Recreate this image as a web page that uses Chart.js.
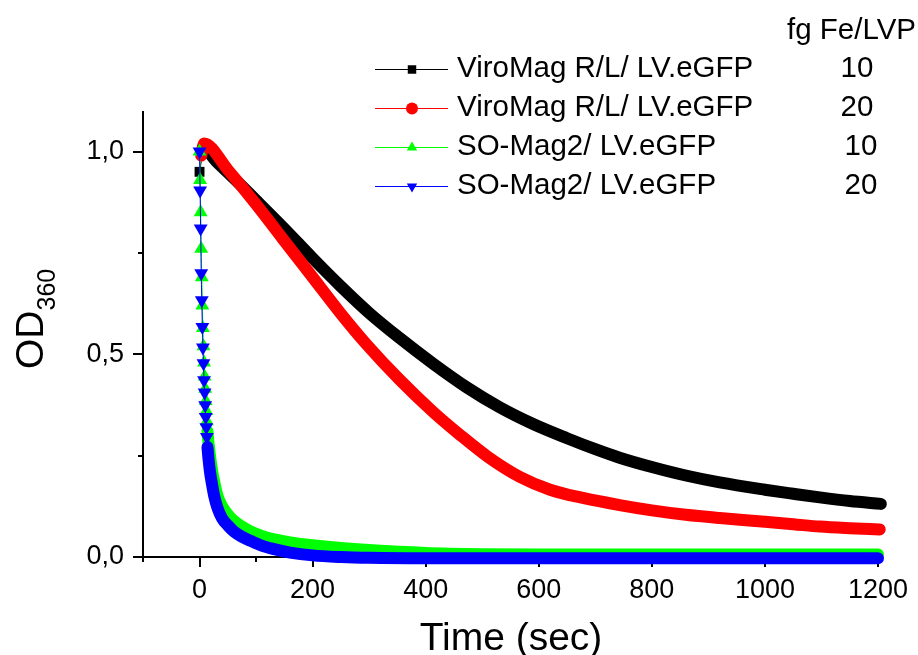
<!DOCTYPE html>
<html>
<head>
<meta charset="utf-8">
<script src="https://cdn.jsdelivr.net/npm/chart.js@4.4.1/dist/chart.umd.min.js"></script>
<style>
html,body{margin:0;padding:0;background:#fff;}
#wrap{width:918px;height:655px;position:relative;}
</style>
</head>
<body>
<div id="wrap"><canvas id="c" width="918" height="655"></canvas></div>
<script>
// ---------- DATA ----------
const seriesLabels = ["ViroMag R/L/ LV.eGFP", "ViroMag R/L/ LV.eGFP", "SO-Mag2/ LV.eGFP", "SO-Mag2/ LV.eGFP"];
const doseLabels = ["10", "20", "10", "20"];
const legendHeader = "fg Fe/LVP";

const timeViro10 = [0, 8, 30, 60, 100, 150, 200, 248, 300, 354, 413, 472, 530, 590, 650, 700, 743, 800, 860, 920, 1000, 1050, 1097, 1150, 1205];
const odViro10   = [0.95, 1.005, 0.975, 0.935, 0.88, 0.81, 0.737, 0.67, 0.602, 0.54, 0.477, 0.419, 0.37, 0.328, 0.293, 0.266, 0.245, 0.222, 0.201, 0.184, 0.166, 0.156, 0.147, 0.138, 0.131];

const timeViro20 = [3, 8, 50, 100, 147, 200, 250, 295, 354, 413, 460, 510, 566, 620, 680, 743, 800, 860, 920, 1000, 1050, 1097, 1150, 1203];
const odViro20   = [0.99, 1.02, 0.955, 0.87, 0.785, 0.69, 0.6, 0.525, 0.437, 0.358, 0.302, 0.247, 0.198, 0.166, 0.145, 0.128, 0.115, 0.104, 0.096, 0.087, 0.081, 0.075, 0.071, 0.068];

const timeSO10 = [0, 1, 2, 3, 4, 5, 6, 7, 8, 9, 10, 11, 12, 13, 14, 18, 22, 26, 32, 40, 50, 60, 75, 90, 110, 130, 160, 200, 250, 300, 400, 500, 600, 800, 1000, 1200];
const odSO10   = [1.0, 0.93, 0.85, 0.76, 0.69, 0.62, 0.565, 0.52, 0.48, 0.445, 0.415, 0.385, 0.36, 0.335, 0.31, 0.255, 0.215, 0.185, 0.15, 0.125, 0.105, 0.09, 0.075, 0.063, 0.052, 0.044, 0.036, 0.029, 0.022, 0.017, 0.01, 0.007, 0.006, 0.006, 0.006, 0.006];

const timeSO20 = [0, 1, 2, 3, 4, 5, 6, 7, 8, 9, 10, 11, 12, 13, 14, 18, 22, 26, 32, 40, 50, 60, 75, 90, 110, 130, 160, 200, 250, 300, 400, 500, 600, 800, 1000, 1200];
const odSO20   = [1.0, 0.904, 0.81, 0.70, 0.633, 0.567, 0.517, 0.478, 0.436, 0.406, 0.374, 0.345, 0.32, 0.296, 0.271, 0.215, 0.18, 0.15, 0.12, 0.095, 0.078, 0.064, 0.05, 0.04, 0.028, 0.02, 0.011, 0.004, 0.0, -0.002, -0.003, -0.003, -0.003, -0.003, -0.003, -0.003];

const xTickValues = [0, 200, 400, 600, 800, 1000, 1200];
const xMinorValues = [-100, 100, 300, 500, 700, 900, 1100];
const yTickValues = [0, 0.5, 1.0];
const yTickLabels = ["0,0", "0,5", "1,0"];
const yMinorValues = [0.25, 0.75];
const xTitle = "Time (sec)";
const yTitleMain = "OD";
const yTitleSub = "360";

// ---------- CHART ----------
const FONT = "'Liberation Sans', Arial, sans-serif";
const toXY = (ts, vs) => ts.map((t, i) => ({x: t, y: vs[i]}));

const styles = [
  {color: '#000000', pointStyle: 'rect', rotation: 0, radius: 7, bandFrom: 5, order: 3},
  {color: '#ff0000', pointStyle: 'circle', rotation: 0, radius: 6, bandFrom: 0, order: 2},
  {color: '#00ff00', pointStyle: 'triangle', rotation: 0, radius: 8, bandFrom: 14, order: 1},
  {color: '#0000ff', pointStyle: 'triangle', rotation: 180, radius: 8, bandFrom: 14, order: 0}
];
const seriesData = [toXY(timeViro10, odViro10), toXY(timeViro20, odViro20), toXY(timeSO10, odSO10), toXY(timeSO20, odSO20)];

const datasets = seriesData.map((d, i) => {
  const s = styles[i];
  return {
    label: seriesLabels[i] + ' ' + doseLabels[i],
    data: d,
    order: s.order,
    borderColor: s.color,
    backgroundColor: s.color,
    pointBackgroundColor: s.color,
    pointBorderColor: s.color,
    pointBorderWidth: 0,
    pointStyle: s.pointStyle,
    pointRotation: s.rotation,
    pointRadius: c => (c.parsed && c.parsed.x < s.bandFrom ? s.radius : 0),
    borderWidth: 12,
    borderCapStyle: 'round',
    borderJoinStyle: 'round',
    cubicInterpolationMode: 'monotone',
    clip: false,
    segment: {
      borderWidth: c => (c.p0.parsed.x >= s.bandFrom ? 12 : 1)
    }
  };
});

const L = 143, R = 878, T = 111, B = 557;

const decor = {
  id: 'decor',
  beforeDatasetsDraw(chart) {
    const ctx = chart.ctx, xs = chart.scales.x, ys = chart.scales.y;
    ctx.save();
    ctx.strokeStyle = '#000';
    ctx.lineWidth = 2;
    ctx.beginPath();
    ctx.moveTo(xs.left, ys.top); ctx.lineTo(xs.left, ys.bottom + 1);
    ctx.moveTo(xs.left - 1, ys.bottom); ctx.lineTo(xs.right, ys.bottom);
    ctx.stroke();
    ctx.beginPath();
    xTickValues.forEach(v => { const p = Math.round(xs.getPixelForValue(v)); ctx.moveTo(p, ys.bottom); ctx.lineTo(p, ys.bottom + 10); });
    xMinorValues.forEach(v => { const p = Math.round(xs.getPixelForValue(v)); ctx.moveTo(p, ys.bottom); ctx.lineTo(p, ys.bottom + 5); });
    yTickValues.forEach(v => { const p = Math.round(ys.getPixelForValue(v)); ctx.moveTo(xs.left, p); ctx.lineTo(xs.left - 10, p); });
    yMinorValues.forEach(v => { const p = Math.round(ys.getPixelForValue(v)); ctx.moveTo(xs.left, p); ctx.lineTo(xs.left - 5, p); });
    ctx.stroke();
    ctx.restore();
  },
  afterDraw(chart) {
    const ctx = chart.ctx;
    ctx.save();
    ctx.fillStyle = '#000';
    // x title
    ctx.font = '39px ' + FONT;
    ctx.textAlign = 'center';
    ctx.textBaseline = 'alphabetic';
    ctx.fillText(xTitle, 511, 650);
    // y title with subscript
    ctx.save();
    ctx.translate(43, 369);
    ctx.rotate(-Math.PI / 2);
    ctx.textAlign = 'left';
    ctx.font = '39px ' + FONT;
    ctx.fillText(yTitleMain, 0, 0);
    const w = ctx.measureText(yTitleMain).width;
    ctx.font = '25px ' + FONT;
    ctx.fillText(yTitleSub, w, 12);
    ctx.restore();
    // legend
    ctx.font = '29.5px ' + FONT;
    ctx.textBaseline = 'middle';
    ctx.textAlign = 'left';
    ctx.fillText(legendHeader, 787, 31);
    const rowsY = [69, 108, 147, 186];
    const doseX = [857, 857, 861, 861];
    chart.data.datasets.forEach((ds, i) => {
      const s = styles[i];
      const y = rowsY[i];
      ctx.strokeStyle = s.color;
      ctx.fillStyle = s.color;
      ctx.lineWidth = 1;
      ctx.beginPath();
      ctx.moveTo(375, y + 0.5); ctx.lineTo(448, y + 0.5);
      ctx.stroke();
      Chart.helpers.drawPoint(ctx, {pointStyle: s.pointStyle, rotation: s.rotation, radius: 6, borderWidth: 0}, 412, y + 0.5);
      ctx.fillStyle = '#000';
      ctx.textAlign = 'left';
      ctx.fillText(seriesLabels[i], 457, y);
      ctx.textAlign = 'center';
      ctx.fillText(doseLabels[i], doseX[i], y);
    });
    ctx.restore();
  }
};

new Chart(document.getElementById('c'), {
  type: 'line',
  data: {datasets},
  options: {
    responsive: false,
    animation: false,
    devicePixelRatio: 1,
    layout: {padding: {top: T, right: 918 - R, left: 0, bottom: 0}},
    plugins: {legend: {display: false}, tooltip: {enabled: false}},
    scales: {
      x: {
        type: 'linear', min: -100, max: 1200,
        afterFit: s => { s.height = 655 - B; },
        afterBuildTicks: s => { s.ticks = xTickValues.map(v => ({value: v})); },
        grid: {display: false},
        border: {display: false},
        ticks: {color: '#000', font: {size: 27, family: FONT}, padding: 9, maxRotation: 0, autoSkip: false,
          callback: v => String(v)}
      },
      y: {
        type: 'linear', min: 0, max: 1.1,
        afterFit: s => { s.width = L; },
        afterBuildTicks: s => { s.ticks = yTickValues.map(v => ({value: v})); },
        grid: {display: false},
        border: {display: false},
        ticks: {color: '#000', font: {size: 27, family: FONT}, padding: 11, autoSkip: false,
          callback: v => yTickLabels[yTickValues.indexOf(v)] ?? ''}
      }
    }
  },
  plugins: [decor]
});
</script>
</body>
</html>
